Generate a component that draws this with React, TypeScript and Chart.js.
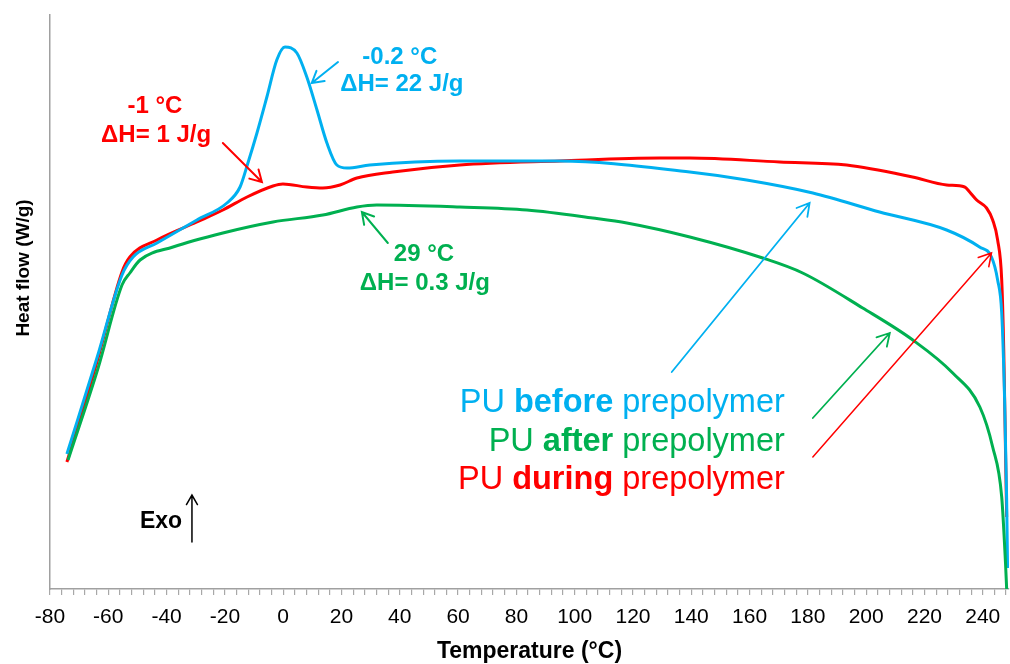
import React, { useEffect, useRef } from "react";
import { Chart, registerables } from "chart.js";

Chart.register(...registerables);

const FONT = "'Liberation Sans', Arial, sans-serif";
const BLUE = "#00B0F0";
const RED = "#FF0000";
const GREEN = "#00B050";

// Temperature (°C) and heat flow (arbitrary W/g units, exo up)
const beforeT = [-74.2, -63.9, -55.3, -51.5, -43.3, -29.6, -19.3, -14.8, -12.1, -9.0, -5.6, -2.2, 0.6, 4.7, 8.1, 11.6, 15.0, 18.4, 21.9, 29.7, 60.6, 94.9, 139.5, 159.0, 181.7, 204.6, 227.6, 238.9, 243.0, 245.1, 246.5, 247.5, 248.2, 248.5];
const beforeHF = [1.35, 2.31, 3.14, 3.32, 3.46, 3.69, 3.86, 4.02, 4.26, 4.56, 4.92, 5.29, 5.42, 5.36, 5.12, 4.79, 4.46, 4.24, 4.21, 4.24, 4.28, 4.28, 4.17, 4.09, 3.96, 3.77, 3.59, 3.42, 3.32, 3.09, 2.76, 1.89, 0.89, 0.21];

const duringT = [-74.2, -63.9, -55.3, -52.6, -43.3, -29.6, -20.7, -12.4, -3.5, -0.1, 8.1, 13.6, 19.5, 25.3, 37.6, 60.6, 94.9, 129.2, 139.5, 170.3, 193.3, 215.9, 227.6, 233.8, 235.5, 237.9, 241.3, 243.4, 245.1, 246.5, 247.2, 247.8, 248.2];
const duringHF = [1.27, 2.27, 3.17, 3.32, 3.49, 3.67, 3.79, 3.92, 4.03, 4.05, 4.02, 4.01, 4.04, 4.11, 4.17, 4.24, 4.28, 4.31, 4.31, 4.27, 4.24, 4.12, 4.04, 4.02, 3.97, 3.89, 3.81, 3.69, 3.49, 3.09, 2.39, 1.39, 0.72];

const afterT = [-73.8, -63.5, -55.3, -52.6, -49.1, -37.8, -20.7, -3.5, 13.6, 25.3, 32.1, 60.6, 83.6, 106.2, 117.9, 139.5, 164.5, 178.2, 198.8, 216.0, 229.7, 239.0, 243.4, 246.5, 247.8, 248.2];
const afterHF = [1.29, 2.21, 3.04, 3.16, 3.29, 3.42, 3.56, 3.67, 3.74, 3.82, 3.84, 3.82, 3.79, 3.71, 3.66, 3.52, 3.31, 3.16, 2.81, 2.49, 2.16, 1.82, 1.42, 0.92, 0.26, 0.0];

const tickValues = [-80, -76, -72, -68, -64, -60, -56, -52, -48, -44, -40, -36, -32, -28, -24, -20, -16, -12, -8, -4, 0, 4, 8, 12, 16, 20, 24, 28, 32, 36, 40, 44, 48, 52, 56, 60, 64, 68, 72, 76, 80, 84, 88, 92, 96, 100, 104, 108, 112, 116, 120, 124, 128, 132, 136, 140, 144, 148, 152, 156, 160, 164, 168, 172, 176, 180, 184, 188, 192, 196, 200, 204, 208, 212, 216, 220, 224, 228, 232, 236, 240, 244, 248];
const tickLabels = ["-80", "-60", "-40", "-20", "0", "20", "40", "60", "80", "100", "120", "140", "160", "180", "200", "220", "240"];

// annotation arrows: [fromT, fromHF, toT, toHF]
const arrowBlueSmall = [18.8, 5.27, 9.8, 5.06];
const arrowRedSmall = [-20.7, 4.46, -7.3, 4.07];
const arrowGreenSmall = [35.9, 3.46, 27.0, 3.77];
const arrowBlueBig = [133.3, 2.17, 180.6, 3.86];
const arrowGreenBig = [181.7, 1.71, 208.1, 2.56];
const arrowRedBig = [181.7, 1.32, 243.0, 3.36];
const arrowExo = [-31.3, 0.47, -31.3, 0.94];

const peakLabels = [
  { text: "-0.2 °C", t: 40.0, hf: 5.32, color: BLUE },
  { text: "ΔH= 22 J/g", t: 40.7, hf: 5.05, color: BLUE },
  { text: "-1 °C", t: -44.0, hf: 4.83, color: RED },
  { text: "ΔH= 1 J/g", t: -43.6, hf: 4.54, color: RED },
  { text: "29 °C", t: 48.3, hf: 3.35, color: GREEN },
  { text: "ΔH= 0.3 J/g", t: 48.6, hf: 3.06, color: GREEN },
];

const legendNames = ["before", "after", "during"];
const legendColors = [BLUE, GREEN, RED];
const legendHF = [1.86, 1.47, 1.09];
const legendRightT = 172.1;

const exoLabel = { text: "Exo", t: -41.9, hf: 0.67 };

function drawArrow(ctx: CanvasRenderingContext2D, x1: number, y1: number, x2: number, y2: number, color: string, width: number, head: number) {
  ctx.strokeStyle = color;
  ctx.lineWidth = width;
  ctx.lineCap = "round";
  ctx.beginPath();
  ctx.moveTo(x1, y1);
  ctx.lineTo(x2, y2);
  const ang = Math.atan2(y2 - y1, x2 - x1);
  const a = Math.PI / 6;
  ctx.moveTo(x2 - head * Math.cos(ang - a), y2 - head * Math.sin(ang - a));
  ctx.lineTo(x2, y2);
  ctx.lineTo(x2 - head * Math.cos(ang + a), y2 - head * Math.sin(ang + a));
  ctx.stroke();
}

const annotPlugin = {
  id: "annot",
  afterDatasetsDraw(chart: any) {
    const { ctx, scales, chartArea } = chart;
    const xs = scales.x;
    const ys = scales.y;
    const px = (t: number) => xs.getPixelForValue(t);
    const py = (v: number) => ys.getPixelForValue(v);
    ctx.save();
    const arr = (a: number[], c: string, w: number, h: number) =>
      drawArrow(ctx, px(a[0]), py(a[1]), px(a[2]), py(a[3]), c, w, h);
    arr(arrowBlueSmall, BLUE, 2, 13);
    arr(arrowRedSmall, RED, 2, 13);
    arr(arrowGreenSmall, GREEN, 2, 13);
    arr(arrowBlueBig, BLUE, 1.8, 14);
    arr(arrowGreenBig, GREEN, 1.8, 14);
    arr(arrowRedBig, RED, 1.5, 14);
    arr(arrowExo, "#000", 1.5, 11);

    ctx.textAlign = "center";
    ctx.textBaseline = "middle";
    ctx.font = `bold 24px ${FONT}`;
    for (const l of peakLabels) {
      ctx.fillStyle = l.color;
      ctx.fillText(l.text, px(l.t), py(l.hf));
    }
    ctx.fillStyle = "#000";
    ctx.font = `bold 23px ${FONT}`;
    ctx.fillText(exoLabel.text, px(exoLabel.t), py(exoLabel.hf));

    // legend-like coloured text
    const reg = `32.5px ${FONT}`;
    const bold = `bold 32.5px ${FONT}`;
    ctx.textAlign = "left";
    for (let i = 0; i < legendNames.length; i++) {
      const parts: [string, string][] = [["PU ", reg], [legendNames[i], bold], [" prepolymer", reg]];
      let w = 0;
      for (const [s, f] of parts) { ctx.font = f; w += ctx.measureText(s).width; }
      let x = px(legendRightT) - w;
      const y = py(legendHF[i]);
      ctx.fillStyle = legendColors[i];
      for (const [s, f] of parts) { ctx.font = f; ctx.fillText(s, x, y); x += ctx.measureText(s).width; }
    }

    // axis titles
    ctx.fillStyle = "#000";
    ctx.font = `bold 23px ${FONT}`;
    ctx.textAlign = "center";
    ctx.fillText("Temperature (°C)", (chartArea.left + chartArea.right) / 2, 652);
    ctx.translate(24, 268);
    ctx.rotate(-Math.PI / 2);
    ctx.font = `bold 19px ${FONT}`;
    ctx.fillText("Heat flow (W/g)", 0, 0);
    ctx.restore();
  },
};

export default function App() {
  const ref = useRef<HTMLCanvasElement>(null);
  useEffect(() => {
    if (!ref.current) return;
    const mk = (t: number[], v: number[]) => t.map((x, i) => ({ x, y: v[i] }));
    const chart = new Chart(ref.current, {
      type: "line",
      data: {
        datasets: [
          { label: "PU after prepolymer", data: mk(afterT, afterHF), borderColor: GREEN, borderWidth: 3, pointRadius: 0, cubicInterpolationMode: "monotone" },
          { label: "PU before prepolymer", data: mk(beforeT, beforeHF), borderColor: BLUE, borderWidth: 3, pointRadius: 0, cubicInterpolationMode: "monotone" },
          { label: "PU during prepolymer", data: mk(duringT, duringHF), borderColor: RED, borderWidth: 3, pointRadius: 0, cubicInterpolationMode: "monotone" },
        ],
      },
      options: {
        animation: false,
        responsive: false,
        maintainAspectRatio: false,
        layout: { padding: { top: 15, right: 1, left: 0, bottom: 0 } },
        plugins: { legend: { display: false }, tooltip: { enabled: false } },
        scales: {
          x: {
            type: "linear",
            min: -80,
            max: 249,
            afterBuildTicks: (s: any) => { s.ticks = tickValues.map((v) => ({ value: v })); },
            afterFit: (s: any) => { s.height = 75; s.paddingLeft = 0; s.paddingRight = 0; },
            ticks: {
              autoSkip: false,
              maxRotation: 0,
              padding: 10,
              color: "#000",
              font: { family: FONT, size: 21 },
              callback: (v: any) => (tickLabels.includes(String(v)) ? String(v) : ""),
            },
            grid: { drawOnChartArea: false, drawTicks: true, tickLength: 6, color: "#a8a8a8", lineWidth: 1.2 },
            border: { display: true, color: "#a0a0a0", width: 1.5 },
          },
          y: {
            type: "linear",
            min: 0,
            max: 5.74,
            afterFit: (s: any) => { s.width = 50; s.paddingTop = 0; s.paddingBottom = 0; },
            ticks: { display: false },
            grid: { drawOnChartArea: false, drawTicks: false, color: "rgba(0,0,0,0)" },
            border: { display: true, color: "#a0a0a0", width: 1.5 },
          },
        },
      },
      plugins: [annotPlugin],
    } as any);
    return () => chart.destroy();
  }, []);
  return (
    <div style={{ position: "fixed", left: 0, top: 0, width: 1010, height: 664, background: "#fff" }}>
      <canvas ref={ref} width={1010} height={664} style={{ width: 1010, height: 664, display: "block" }} />
    </div>
  );
}
